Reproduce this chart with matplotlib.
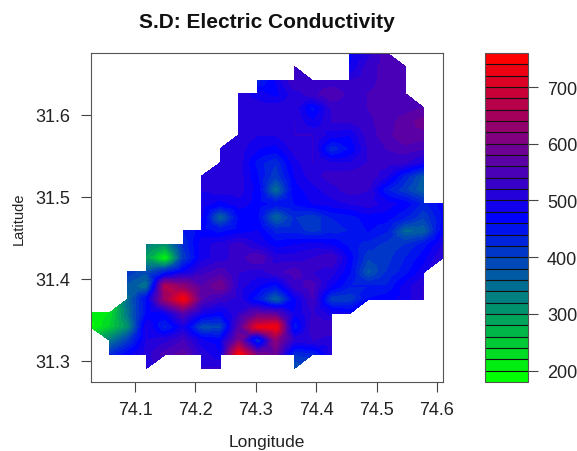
import numpy as np
import matplotlib
matplotlib.use('Agg')
import matplotlib.pyplot as plt
from matplotlib.colors import LinearSegmentedColormap, BoundaryNorm
from matplotlib.tri import Triangulation

plt.rcParams['font.family'] = ['Liberation Sans', 'DejaVu Sans']

n = np.nan

lons = [74.027, 74.058, 74.088, 74.119, 74.150, 74.180, 74.211, 74.241, 74.272, 74.303,
        74.333, 74.364, 74.394, 74.425, 74.456, 74.486, 74.517, 74.548, 74.578, 74.609]
lats = [31.675, 31.658, 31.641, 31.625, 31.608, 31.591, 31.575, 31.558, 31.541, 31.525, 31.508, 31.491,
        31.475, 31.458, 31.441, 31.425, 31.408, 31.391, 31.375, 31.358, 31.341, 31.325, 31.308, 31.291]

# one row per latitude, top to bottom
sd_values = [
    [n, n, n, n, n, n, n, n, n, n, n, n, n, n, 470, 510, 550, n, n, n],
    [n, n, n, n, n, n, n, n, n, n, n, 540, n, n, 480, 530, 550, 550, n, n],
    [n, n, n, n, n, n, n, n, n, 430, 480, 540, 530, 520, 520, 530, 550, 550, n, n],
    [n, n, n, n, n, n, n, n, 510, 490, 470, 510, 530, 560, 530, 540, 550, 550, n, n],
    [n, n, n, n, n, n, n, n, 510, 510, 510, 510, 450, 520, 530, 540, 550, 550, 560, n],
    [n, n, n, n, n, n, n, n, 510, 510, 510, 520, 480, 520, 520, 535, 550, 570, 590, n],
    [n, n, n, n, n, n, n, n, 510, 500, 500, 520, 520, 490, 480, 530, 550, 580, 570, n],
    [n, n, n, n, n, n, n, 510, 510, 480, 470, 510, 520, 420, 460, 520, 540, 550, 540, n],
    [n, n, n, n, n, n, n, 510, 510, 450, 420, 490, 520, 500, 500, 520, 530, 520, 490, n],
    [n, n, n, n, n, n, 510, 510, 510, 460, 400, 480, 510, 530, 530, 540, 500, 430, 370, n],
    [n, n, n, n, n, n, 500, 510, 510, 470, 340, 470, 490, 510, 530, 520, 440, 400, 360, n],
    [n, n, n, n, n, n, 490, 470, 490, 470, 450, 460, 480, 490, 500, 510, 490, 470, 430, 470],
    [n, n, n, n, n, n, 480, 350, 460, 460, 350, 420, 400, 440, 450, 470, 470, 440, 400, 460],
    [n, n, n, n, n, 440, 470, 450, 470, 480, 430, 430, 410, 430, 440, 460, 440, 350, 360, 470],
    [n, n, n, 330, 300, 420, 490, 510, 530, 500, 470, 480, 490, 480, 450, 430, 410, 420, 450, 500],
    [n, n, n, 290, 190, 400, 490, 510, 530, 560, 510, 510, 520, 540, 470, 400, 410, 440, 470, 520],
    [n, n, 410, 380, 430, 480, 530, 550, 520, 510, 530, 550, 520, 510, 460, 370, 420, 450, 490, n],
    [n, n, 370, 340, 660, 620, 560, 600, 510, 480, 450, 530, 550, 480, 440, 440, 440, 490, 520, n],
    [n, n, 350, 460, 640, 740, 560, 530, 510, 440, 350, 470, 540, 400, 400, 460, 470, 490, 520, n],
    [200, 220, 340, 460, 480, 560, 490, 470, 520, 570, 560, 480, 520, 490, 480, n, n, n, n, n],
    [190, 240, 310, 500, 430, 490, 380, 390, 560, 720, 740, 440, 530, 540, n, n, n, n, n, n],
    [n, 330, 400, 500, 510, 540, 480, 470, 600, 400, 620, 510, 520, 510, n, n, n, n, n, n],
    [n, 420, 470, 510, 550, 570, 510, 480, 750, 590, 580, 420, 430, 500, n, n, n, n, n, n],
    [n, n, n, 500, n, n, 520, 520, n, n, n, 380, n, n, n, n, n, n, n, n],
]

# cells with one corner missing that are still drawn as a triangle (column, row)
corner_cells = [(7, 6), (6, 8), (1, 18), (0, 20), (11, 1), (16, 0), (17, 3), (3, 22), (11, 22), (14, 18), (18, 15)]

levels = list(range(180, 761, 20))
bar_ticks = [200, 300, 400, 500, 600, 700]
x_ticks = [74.1, 74.2, 74.3, 74.4, 74.5, 74.6]
y_ticks = [31.3, 31.4, 31.5, 31.6]


def build_mesh(xs, ys, grid, corners):
    # split whole cells around their centre, as the contour routine does for a grid
    pts_x, pts_y, pts_z, tris = [], [], [], []
    index = {}

    def vertex(i, j):
        if (i, j) not in index:
            index[(i, j)] = len(pts_x)
            pts_x.append(xs[i])
            pts_y.append(ys[j])
            pts_z.append(grid[j][i])
        return index[(i, j)]

    for j in range(len(ys) - 1):
        for i in range(len(xs) - 1):
            cell = [(i, j), (i + 1, j), (i + 1, j + 1), (i, j + 1)]
            good = [c for c in cell if not np.isnan(grid[c[1]][c[0]])]
            if len(good) == 4:
                centre = len(pts_x)
                pts_x.append((xs[i] + xs[i + 1]) / 2)
                pts_y.append((ys[j] + ys[j + 1]) / 2)
                pts_z.append(np.mean([grid[c[1]][c[0]] for c in cell]))
                for k in range(4):
                    tris.append([centre, vertex(*cell[k]), vertex(*cell[(k + 1) % 4])])
            elif len(good) == 3 and (i, j) in corners:
                tris.append([vertex(*c) for c in good])
    return Triangulation(pts_x, pts_y, tris), pts_z


W, H = 577, 452
fig = plt.figure(figsize=(W / 100, H / 100), dpi=100)
ax = fig.add_axes([91 / W, 1 - 383 / H, 352 / W, 329 / H])
cax = fig.add_axes([484.5 / W, 1 - 383 / H, 43 / W, 329 / H])

ramp = LinearSegmentedColormap.from_list('gbr', ['#00ff00', '#0000ff', '#ff0000'], N=len(levels) - 1)
norm = BoundaryNorm(levels, ramp.N)

mesh, mesh_z = build_mesh(lons, lats, sd_values, corner_cells)
cs = ax.tricontourf(mesh, mesh_z, levels=levels, cmap=ramp, norm=norm)
cs.set_edgecolor('face')
cs.set_linewidth(0.3)

ax.set_xlim(74.027, 74.61)
ax.set_ylim(31.274, 31.675)
ax.set_xticks(x_ticks)
ax.set_yticks(y_ticks)
ax.tick_params(length=7, width=0.8, color='#444444', labelsize=13, labelcolor='#222222')
ax.tick_params(axis='x', pad=7)
ax.tick_params(axis='y', pad=8)
ax.set_xlabel('Longitude', fontsize=12.5, color='#222222', labelpad=11.5)
ax.set_ylabel('Latitude', fontsize=10.5, color='#222222', labelpad=6.5)
ax.set_title('S.D: Electric Conductivity', fontsize=15, fontweight='bold', color='#111111', pad=19)
for spine in ax.spines.values():
    spine.set_color('#555555')

cbar = fig.colorbar(cs, cax=cax, ticks=bar_ticks, drawedges=True)
cbar.dividers.set_color('#111111')
cbar.dividers.set_linewidth(0.8)
cbar.outline.set_edgecolor('#555555')
cbar.minorticks_off()
cax.tick_params(length=7, width=0.8, color='#444444', labelsize=13, labelcolor='#222222', pad=7)

fig.savefig('out.png', dpi=100)
